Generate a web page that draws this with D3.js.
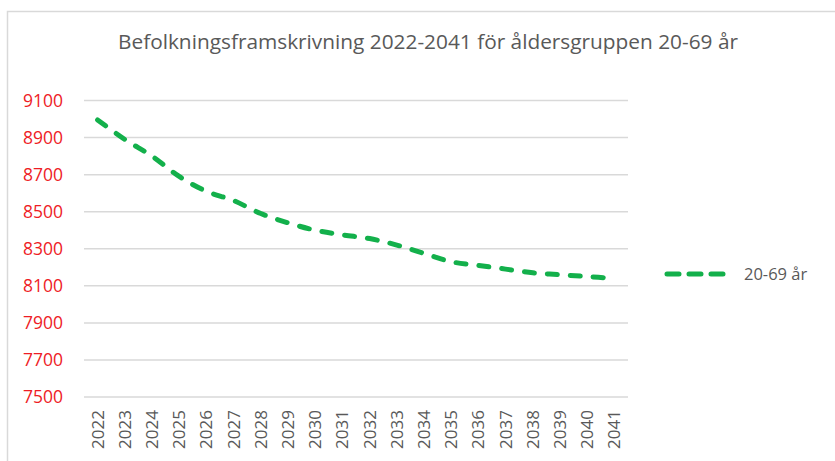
<!DOCTYPE html>
<html>
<head>
<meta charset="utf-8">
<script src="https://cdn.jsdelivr.net/npm/d3@7"></script>
<style>
  body { margin: 0; background: #fff; }
  svg text { font-family: "Open Sans", "Noto Sans", sans-serif; }
</style>
</head>
<body>
<div id="chart"></div>
<script>
// data
var years = ["2022", "2023", "2024", "2025", "2026", "2027", "2028", "2029", "2030", "2031",
             "2032", "2033", "2034", "2035", "2036", "2037", "2038", "2039", "2040", "2041"];
var values = [8995, 8890, 8800, 8690, 8610, 8560, 8490, 8440, 8400, 8375,
              8355, 8320, 8275, 8230, 8210, 8190, 8170, 8160, 8150, 8140];
var yTicks = [7500, 7700, 7900, 8100, 8300, 8500, 8700, 8900, 9100];
var seriesName = "20-69 år";
var title = "Befolkningsframskrivning 2022-2041 för åldersgruppen 20-69 år";

var width = 835, height = 461;
var margin = { left: 84, right: 207, top: 100.5, bottom: 64 };

var svg = d3.select("#chart").append("svg")
  .attr("width", width)
  .attr("height", height);

// chart frame
svg.append("rect")
  .attr("x", 7.5).attr("y", 11.5)
  .attr("width", 840).attr("height", 460)
  .attr("fill", "none")
  .attr("stroke", "#d9d9d9")
  .attr("stroke-width", 1.5);

var x = d3.scalePoint()
  .domain(years)
  .range([margin.left, width - margin.right])
  .padding(0.5);

var y = d3.scaleLinear()
  .domain([7500, 9100])
  .range([height - margin.bottom, margin.top]);

// gridlines
svg.append("g")
  .selectAll("line")
  .data(yTicks)
  .enter()
  .append("line")
  .attr("x1", margin.left)
  .attr("x2", width - margin.right)
  .attr("y1", function(d) { return y(d); })
  .attr("y2", function(d) { return y(d); })
  .attr("stroke", "#d9d9d9")
  .attr("stroke-width", 1.5);

// y axis labels
svg.append("g")
  .selectAll("text")
  .data(yTicks)
  .enter()
  .append("text")
  .attr("x", 63)
  .attr("y", function(d) { return y(d) + 6; })
  .attr("text-anchor", "end")
  .attr("fill", "#ee1c25")
  .style("font-size", "17.5px")
  .text(function(d) { return d; });

// x axis labels, rotated
svg.append("g")
  .selectAll("text")
  .data(years)
  .enter()
  .append("text")
  .attr("transform", function(d) { return "translate(" + (x(d) + 6) + "," + 410 + ") rotate(-90)"; })
  .attr("text-anchor", "end")
  .attr("fill", "#595959")
  .style("font-size", "17px")
  .text(function(d) { return d; });

// the series
var line = d3.line()
  .x(function(d, i) { return x(years[i]); })
  .y(function(d) { return y(d); })
  .curve(d3.curveCatmullRom.alpha(0.5));

svg.append("path")
  .datum(values)
  .attr("d", line)
  .attr("fill", "none")
  .attr("stroke", "#13b04b")
  .attr("stroke-width", 5)
  .attr("stroke-linecap", "round")
  .attr("stroke-dasharray", "10,13");

// legend
svg.append("line")
  .attr("x1", 667).attr("x2", 730)
  .attr("y1", 274).attr("y2", 274)
  .attr("stroke", "#13b04b")
  .attr("stroke-width", 5)
  .attr("stroke-linecap", "round")
  .attr("stroke-dasharray", "12,10");

svg.append("text")
  .attr("x", 744).attr("y", 280)
  .attr("fill", "#595959")
  .style("font-size", "16.5px")
  .text(seriesName);

// title
svg.append("text")
  .attr("x", 428).attr("y", 49)
  .attr("text-anchor", "middle")
  .attr("fill", "#595959")
  .style("font-size", "20px")
  .attr("textLength", 620)
  .attr("lengthAdjust", "spacingAndGlyphs")
  .text(title);
</script>
</body>
</html>
